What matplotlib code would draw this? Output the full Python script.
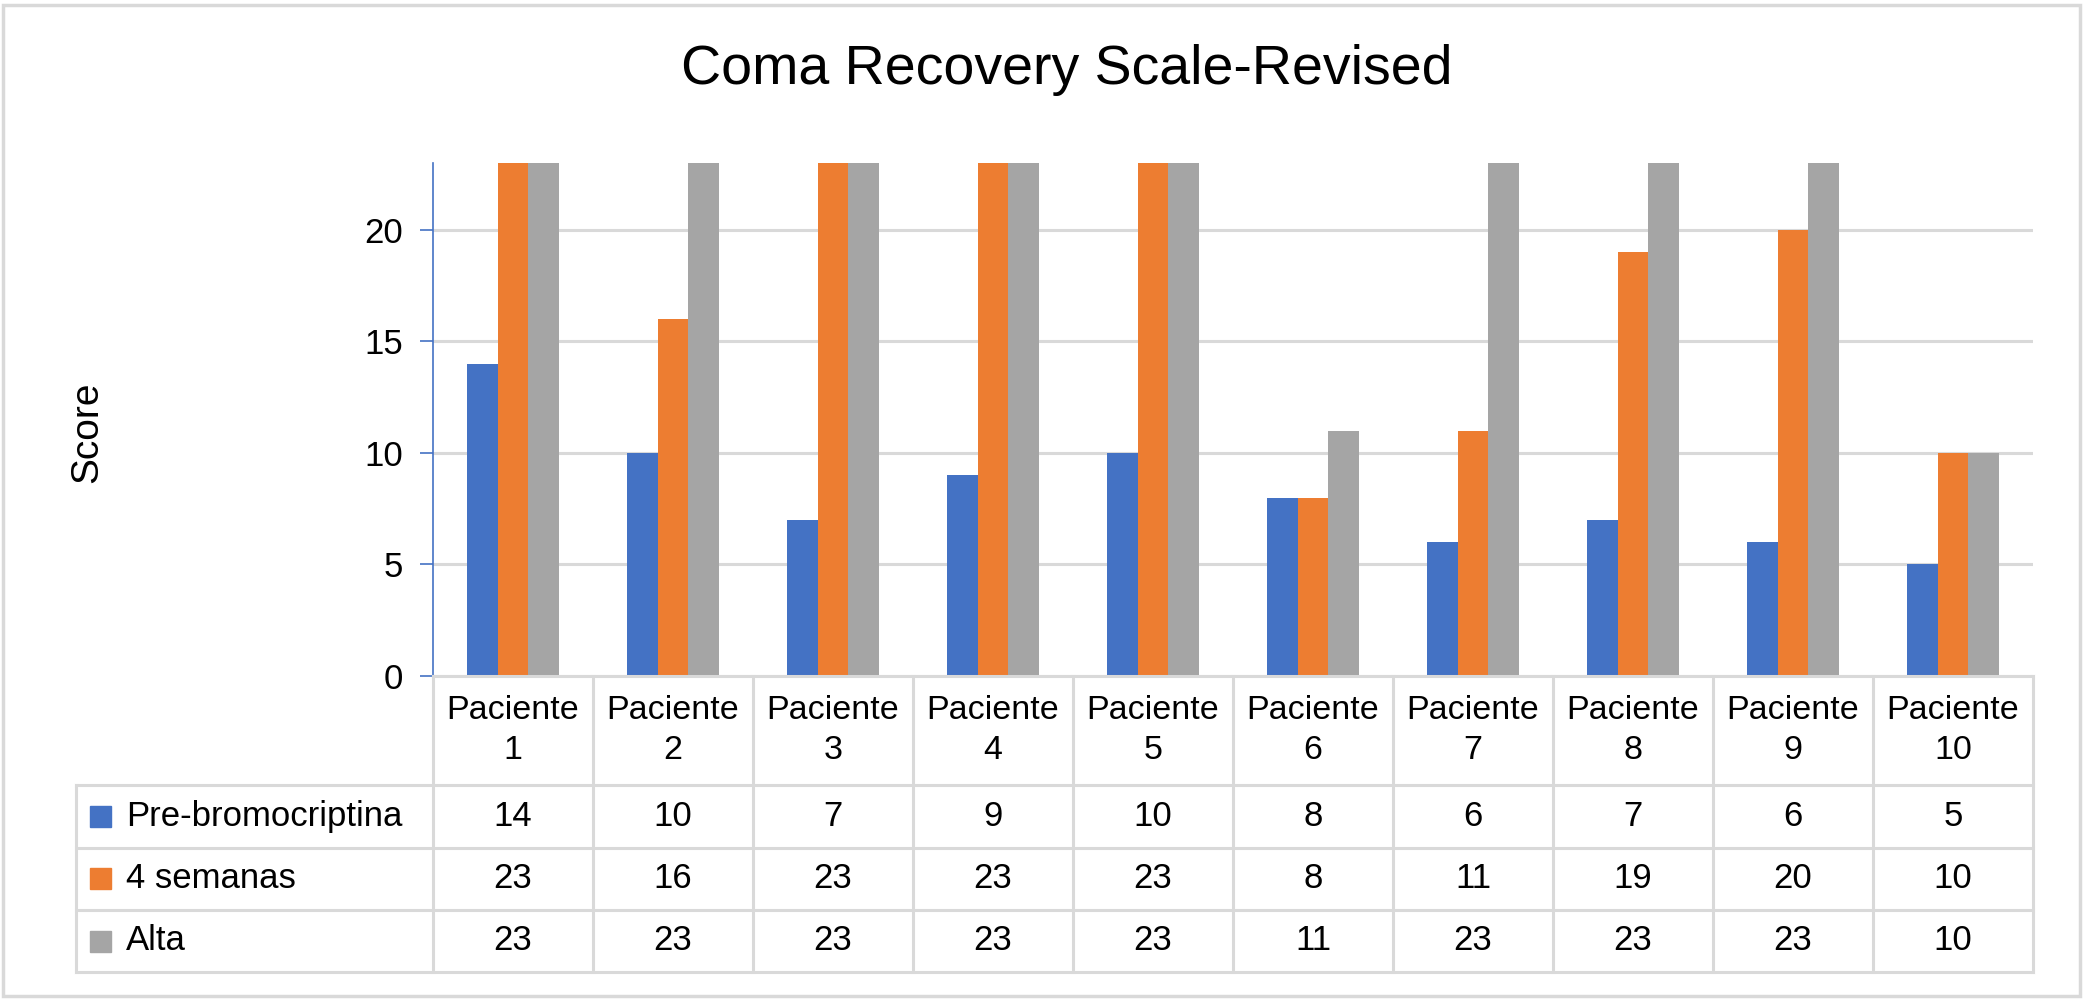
import numpy as np
import matplotlib
matplotlib.use("Agg")
import matplotlib.pyplot as plt
from matplotlib.patches import Rectangle

patients = ["Paciente\n%d" % i for i in range(1, 11)]
series = ["Pre-bromocriptina", "4 semanas", "Alta"]
pre = [14, 10, 7, 9, 10, 8, 6, 7, 6, 5]
semanas4 = [23, 16, 23, 23, 23, 8, 11, 19, 20, 10]
alta = [23, 23, 23, 23, 23, 11, 23, 23, 23, 10]
colors = ["#4472C4", "#ED7D31", "#A5A5A5"]
yticks = [0, 5, 10, 15, 20]

plt.rcParams["font.family"] = ["Liberation Sans", "DejaVu Sans"]
grid_c = "#D9D9D9"

W, H = 2083, 1001
fig = plt.figure(figsize=(W / 100, H / 100), dpi=100)


def box(l, t, r, b):
    return [l / W, 1 - b / H, (r - l) / W, (b - t) / H]


# chart
ax = fig.add_axes(box(433, 163, 2033, 676))
x = np.arange(len(patients))
w = 0.1925
for i, (vals, c) in enumerate(zip([pre, semanas4, alta], colors)):
    ax.bar(x + (i - 1) * w, vals, w, color=c, zorder=2)
ax.set_xlim(-0.5, len(patients) - 0.5)
ax.set_ylim(0, 23)
ax.set_yticks(yticks)
ax.yaxis.grid(True, color=grid_c, lw=2.2)
ax.set_axisbelow(True)
for s in ["top", "right"]:
    ax.spines[s].set_visible(False)
ax.spines["left"].set_color("#4472C4")
ax.spines["left"].set_linewidth(1.2)
ax.spines["bottom"].set_color(grid_c)
ax.spines["bottom"].set_linewidth(2.2)
ax.tick_params(axis="y", length=9.4, width=1.2, color="#4472C4", labelsize=25, pad=12)
ax.tick_params(axis="x", bottom=False, labelbottom=False)

fig.text(1067 / W, 1 - 84 / H, "Coma Recovery Scale-Revised", ha="center", va="baseline", fontsize=40)
fig.text(87 / W, 1 - 432 / H, "Score", ha="center", va="center", rotation=90, fontsize=28)

# data table
tab = fig.add_axes(box(76, 676, 2033, 972))
xmin = -0.5 - (433 - 76) / 160
tab.set_xlim(xmin, len(patients) - 0.5)
tab.set_ylim(296, 0)
tab.axis("off")
rows = [0, 109, 171.5, 234, 296]
n = len(patients)
for k in range(n + 1):
    tab.plot([k - 0.5, k - 0.5], [0, 296], color=grid_c, lw=2.2, clip_on=False)
tab.plot([xmin, xmin], [rows[1], 296], color=grid_c, lw=2.2, clip_on=False)
for yv in rows[1:]:
    tab.plot([xmin, n - 0.5], [yv, yv], color=grid_c, lw=2.2, clip_on=False)

for i, lab in enumerate(patients):
    tab.text(i, rows[1] / 2, lab, ha="center", va="center", fontsize=24.5, linespacing=1.35)

for r, (name, vals, c) in enumerate(zip(series, [pre, semanas4, alta], colors)):
    yc = (rows[r + 1] + rows[r + 2]) / 2
    tab.add_patch(Rectangle((xmin + 14 / 160, yc - 10.5), 21 / 160, 21, color=c, clip_on=False))
    tab.text(xmin + 50 / 160, yc, name, ha="left", va="center", fontsize=25)
    for i, v in enumerate(vals):
        tab.text(i, yc, str(v), ha="center", va="center", fontsize=25)

# outer border
fig.add_artist(Rectangle((3 / W, 5 / H), (2077 / W), (991 / H), transform=fig.transFigure,
                         fill=False, edgecolor=grid_c, lw=2.5))

fig.savefig("out.png", dpi=100)
